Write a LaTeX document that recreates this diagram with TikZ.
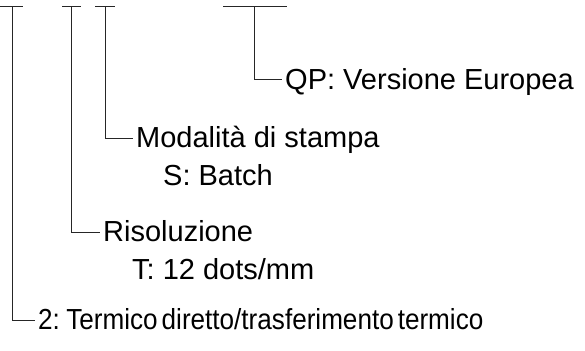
\documentclass[tikz,border=0pt]{standalone}
\usepackage{fontspec}
\setmainfont{Liberation Sans}
\newfontfamily\condfont[FakeStretch=0.9,WordSpace=0.55]{Liberation Sans}
\usepackage{tikz}
\usetikzlibrary{positioning}

\begin{document}
\begin{tikzpicture}[
    x=1pt, y=-1pt,
    lead/.style={draw=black!85, line width=1pt},
    lbl/.style={anchor=west, inner xsep=3pt, inner ysep=0pt,
      text height=21pt, text depth=3pt,
      font=\fontsize{29}{34}\selectfont}]
  \useasboundingbox (0,0) rectangle (585,350);

  % The four code positions, each with its short bar on top.
  \foreach \n/\x/\l/\r in {1/12/0/23, 2/71/62/81, 3/105/95/115, 4/254/223/287} {
    \coordinate (t\n) at (\x,7);
    \draw[lead] (\l,7) -- (\r,7);
  }

  % What each position means.
  \node[lbl] (qp) at (282,80) {QP: Versione Europea};
  \node[lbl] (mode) at (133,138) {Modalità di stampa};
  \node[lbl] (batch) at (160,176) {S: Batch};
  \node[lbl] (res) at (100,232) {Risoluzione};
  \node[lbl] (dots) at (129,270) {T: 12 dots/mm};
  \node[lbl, font=\fontsize{29}{34}\condfont] (tech) at (35,320)
    {2: Termico diretto/trasferimento termico};

  \draw[lead] (t4) |- (qp.west);
  \draw[lead] (t3) |- (mode.west);
  \draw[lead] (t2) |- (res.west);
  \draw[lead] (t1) |- (tech.west);
\end{tikzpicture}
\end{document}
